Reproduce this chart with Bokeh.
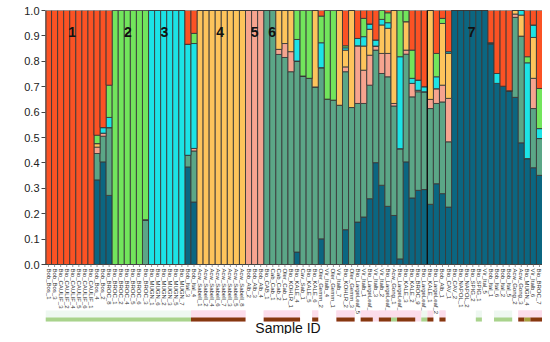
import numpy as np
from bokeh.plotting import figure
from bokeh.models import (ColumnDataSource, FixedTicker, NumeralTickFormatter,
                          Range1d, Label)
from bokeh.embed import file_html
from bokeh.resources import INLINE
from bokeh.core.properties import value

# ---------------- data ----------------
samples = [
    "Bob_Bos_1", "Bob_Bos_3", "Bio_CAULIF_3", "Bio_CAULIF_2", "Bio_CAULIF_4", "Bio_CAULIF_5",
    "Bio_CAULIF_6", "Bio_CAULIF_1", "Bob_Bos_4", "Bob_Bos_2", "Bio_BROC_8", "Bio_BROC_1",
    "Bio_BROC_2", "Bio_BROC_4", "Bio_BROC_5", "Bio_BROC_6", "Bio_BROC_3", "Bio_MUGN_1",
    "Bio_MUGN_6", "Bio_MUGN_2", "Bio_MUGN_3", "Bio_MUGN_5", "Bio_MUGN_7", "Bob_Ital_3",
    "Bob_Ital_4", "Acw_Sabell_1", "Acw_Sabell_2", "Acw_Sabell_4", "Acw_Sabell_6", "Acw_Sabell_7",
    "Acw_Sabell_3", "Acw_Sabell_5", "Acw_Sabell_8", "Bob_Alb_2", "Bob_Alb_3", "Bob_Alb_4",
    "Bio_CAB_1", "Cab_Cab_1", "Cab_Cab_2", "Oler_Cab_1", "Bio_KOHLR_1", "Bio_KALE_4",
    "Cav_Sab_1", "Bio_KALE_5", "Bio_KALE_6", "Oler_Gemm_2", "Vir_Italb_4", "Oler_Gemm_1",
    "Vir_Italb_7", "Bio_KOHLR_2", "Oler_Gemm_3", "Bio_LargeLeaf_5", "Vir_Italb_1",
    "Bio_LargeLeaf_6", "Vir_Italb_3", "Vir_Italb_2", "Bio_LargeLeaf_7", "Acw_Gong_1",
    "Bio_LargeLeaf_4", "Bio_KALE_3", "Bio_KALE_2", "Bio_BROC_9", "Bio_LargeLeaf_3",
    "Bio_KALE_1", "Bio_LargeLeaf_2", "Bob_Alb_1", "Bio_CAV_1", "Bio_CAV_2", "Bio_NAPOL_1",
    "Bio_NAPOL_2", "Bio_SPIG_2", "Bio_SPIG_1", "Vir_Ital_5", "Bob_Ital_1", "Bob_Ital_6",
    "Bob_Ital_2", "Bob_Ital_5", "Acw_Gong_2", "Acw_Gong_3", "Bio_MUGN_4", "Vir_Italb_6",
    "Bio_BROC_7",
]

# ancestry proportions per cluster (K1 .. K7)
k1 = [1, 1, 1, 1, 1, 1, 1, 1, .491, .461,
      .294, 0, 0, 0, 0, 0, 0, 0, 0, 0,
      0, 0, 0, .133, .09, 0, 0, 0, 0, 0,
      0, 0, 0, 0, 0, 0, 0, 0, 0, 0,
      0, 0, 0, 0, 0, .022, 0, 0, 0, .139,
      0, .110, .031, .053, .116, 0, .009, 0, 0, 0,
      .156, .274, .30, 0, .169, .031, .162, 0, 0, 0,
      0, 0, 0, .127, .248, .298, .316, 0, 0, .182,
      .057, .307]
k2 = [0, 0, 0, 0, 0, 0, 0, 0, .033, 0,
      .127, 1, 1, 1, 1, 1, .824, 0, 0, 0,
      0, 0, 0, 0, .04, 0, 0, 0, 0, 0,
      0, 0, 0, 0, 0, 0, 0, 0, 0, 0,
      0, .114, .258, .267, 0, .105, .349, .353, 0, .008,
      0, 0, .072, 0, 0, .035, .039, 0, .182, .044,
      .111, 0, 0, 0, .092, .020, 0, 0, 0, 0,
      0, 0, 0, 0, 0, 0, 0, 0, 0, .024,
      0, .158]
k3 = [0, 0, 0, 0, 0, 0, 0, 0, 0, .022,
      .040, 0, 0, 0, 0, 0, 0, 1, 1, 1,
      1, 1, 1, .437, .413, 0, 0, 0, 0, 0,
      0, 0, 0, 0, 0, 0, 0, 0, 0, 0,
      0, .085, 0, 0, 0, .098, 0, 0, 0, .009,
      0, .029, .037, .021, .024, .022, .022, 0, .362, 0,
      .020, .040, .02, 0, .047, 0, .007, 0, 0, 0,
      0, 0, 0, 0, .039, 0, 0, 0, .018, .377,
      .049, .039]
k4 = [0, 0, 0, 0, 0, 0, 0, 0, .014, 0,
      0, 0, 0, 0, 0, 0, 0, 0, 0, 0,
      0, 0, 0, 0, 0, 1, 1, 1, 1, 1,
      1, 1, 1, 0, 0, 0, 0, 0, .153, .130,
      .162, 0, 0, 0, .301, 0, 0, 0, .373, .066,
      .382, 0, .095, .102, 0, .112, .099, .366, 0, .112,
      0, 0, 0, .35, 0, .243, .177, 0, 0, 0,
      0, 0, 0, 0, 0, 0, 0, .014, .083, 0,
      .161, 0]
k5 = [0, 0, 0, 0, 0, 0, 0, 0, .025, .012,
      0, 0, 0, 0, 0, 0, 0, 0, 0, 0,
      0, 0, 0, 0, .01, 0, 0, 0, 0, 0,
      0, 0, 0, 1, 1, 1, 0, 0, .020, .055,
      .079, 0, 0, 0, 0, 0, 0, 0, 0, .019,
      0, .227, .131, .118, .016, .079, .092, .010, 0, .016,
      .053, .006, 0, .036, .058, .066, .171, 0, 0, 0,
      0, 0, 0, 0, 0, 0, 0, .013, 0, 0,
      .119, 0]
k6 = [0, 0, 0, 0, 0, 0, 0, 0, .104, .101,
      .267, 0, 0, 0, 0, 0, .176, 0, 0, 0,
      0, 0, 0, .046, .201, 0, 0, 0, 0, 0,
      0, 0, 0, 0, 0, 0, 1, 1, .827, .815,
      .759, .752, .742, .733, .699, .674, .651, .647, .627, .622,
      .618, .467, .447, .447, .443, .440, .510, .431, .434, .424,
      .398, .388, .385, .377, .316, .361, .257, 0, 0, 0,
      0, 0, 0, .005, 0, 0, 0, .315, .420, 0,
      .233, .145]
k7 = [0, 0, 0, 0, 0, 0, 0, 0, .333, .404,
      .272, 0, 0, 0, 0, 0, 0, 0, 0, 0,
      0, 0, 0, .384, .246, 0, 0, 0, 0, 0,
      0, 0, 0, 0, 0, 0, 0, 0, 0, 0,
      0, .049, 0, 0, 0, .101, 0, 0, 0, .137,
      0, .167, .187, .259, .401, .312, .229, .193, .022, .404,
      .262, .292, .295, .237, .318, .279, .226, 1, 1, 1,
      1, 1, 1, .868, .713, .702, .684, .658, .479, .417,
      .381, .351]

cluster_ids = ["1", "2", "3", "4", "5", "6", "7"]
cluster_label_x = [3.9, 13.1, 19.1, 28.3, 34.0, 36.9, 69.8]
cluster_label_y = [0.915] * 7

y_ticks = [0.0, 0.1, 0.2, 0.3, 0.4, 0.5, 0.6, 0.7, 0.8, 0.9, 1.0]
separators = [62.5]

# group strip below the sample names
seg_start = [0, 24, 36, 44, 48, 52, 55, 57, 58, 62, 63, 65, 71, 74, 78, 79, 80]
seg_end = [23, 32, 41, 44, 50, 53, 56, 57, 60, 62, 63, 65, 71, 76, 78, 79, 81]
seg_kind = ["g", "b", "b", "b", "b", "b", "b", "g", "b", "g", "b", "b", "g", "g", "b", "o", "b"]
bg_start = [24, 36, 44, 48, 52, 65, 78]
bg_end = [32, 41, 44, 50, 61, 65, 81]

# ---------------- layout / styling ----------------
FONT = "Liberation Sans"
W, H, TOP, LEFT, RIGHT = 542, 334, 10, 45, 0
PX = 254.0                      # pixels per unit of ancestry
n = len(samples)
ybot = 1.0 - (H - TOP) / PX
bar_px = (W - LEFT - RIGHT) / n


def dy(px):
    return px / PX


def dx(px):
    return px / bar_px


colors = {
    "k7": "#0B6681", "k6": "#5BA687", "k5": "#F6A48F", "k4": "#FDC45C",
    "k3": "#1CE3E6", "k2": "#72E55C", "k1": "#FB5224",
}
stack = ["k7", "k6", "k5", "k4", "k3", "k2", "k1"]

xs = list(range(n))
src = ColumnDataSource(dict(x=xs, k1=k1, k2=k2, k3=k3, k4=k4, k5=k5, k6=k6, k7=k7))

p = figure(width=W, height=H, x_range=Range1d(-0.5, n - 0.5), y_range=Range1d(ybot, 1.0),
           output_backend="svg", toolbar_location=None, x_axis_location=None,
           min_border_left=LEFT, min_border_right=RIGHT, min_border_top=TOP,
           min_border_bottom=0)
p.xgrid.visible = False
p.ygrid.visible = False
p.outline_line_color = None

p.vbar_stack(stack, x="x", width=1.0, source=src,
             fill_color=[colors[s] for s in stack],
             line_color="#3a3a3a", line_width=0.9)

# separators and axis lines
p.segment(x0=separators, y0=0, x1=separators, y1=1, line_color="#111111", line_width=1.3)
p.segment(x0=[-0.5], y0=[0], x1=[-0.5], y1=[1], line_color="#444444", line_width=2)
p.segment(x0=[-0.5], y0=[0], x1=[n - 0.5], y1=[0], line_color="#444444", line_width=1)
p.segment(x0=xs, y0=0, x1=xs, y1=-dy(2.5), line_color="#777777", line_width=0.8)

# cluster numbers
p.text(x=cluster_label_x, y=cluster_label_y, text=cluster_ids,
       text_font=value(FONT), text_font_size="14px", text_font_style="bold",
       text_align="center", text_baseline="middle", text_color="#111111")

# sample names
p.text(x=xs, y=-dy(4), text=samples, angle=-np.pi / 2,
       text_font=value(FONT), text_font_size="6px", text_color="#333333",
       text_align="left", text_baseline="middle")

# group strip
kind_col = {"g": "#A9D38C", "b": "#86380F", "o": "#A6A23E"}
kind_bg = {"g": "#EEF8F1", "b": "#FCDDEB", "o": "#FCDDEB"}
p.quad(left=[s - 0.5 for s in seg_start], right=[e + 0.5 for e in seg_end],
       top=-dy(46), bottom=-dy(57), fill_color=[kind_bg[k] for k in seg_kind], line_color=None)
p.quad(left=[s - 0.5 for s in bg_start], right=[e + 0.5 for e in bg_end],
       top=-dy(46), bottom=-dy(57), fill_color="#FCDDEB", line_color=None)
p.quad(left=[s - 0.5 for s in seg_start], right=[e + 0.5 for e in seg_end],
       top=-dy(53), bottom=-dy(57), fill_color=[kind_col[k] for k in seg_kind], line_color=None)

# x axis title
p.text(x=[(n - 1) / 2 - dx(6)], y=[-dy(63)], text=["Sample ID"],
       text_font=value(FONT), text_font_size="14px", text_color="#111111",
       text_align="center", text_baseline="middle")

# y axis
ya = p.yaxis[0]
ya.ticker = FixedTicker(ticks=y_ticks)
ya.formatter = NumeralTickFormatter(format="0.0")
ya.major_label_text_font = FONT
ya.major_label_text_font_size = "11px"
ya.major_label_text_color = "#222222"
ya.major_label_standoff = 2
ya.major_tick_in = 0
ya.major_tick_out = 4
ya.minor_tick_line_color = None
ya.axis_line_color = None
ya.major_tick_line_color = "#444444"

p.add_layout(Label(x=-0.5 - dx(35), y=0.5, text="Ancestry [%]", angle=np.pi / 2,
                   text_font=FONT, text_font_size="13px", text_color="#111111",
                   text_align="center", text_baseline="middle"))

open("out.html", "w").write(file_html(p, INLINE))
